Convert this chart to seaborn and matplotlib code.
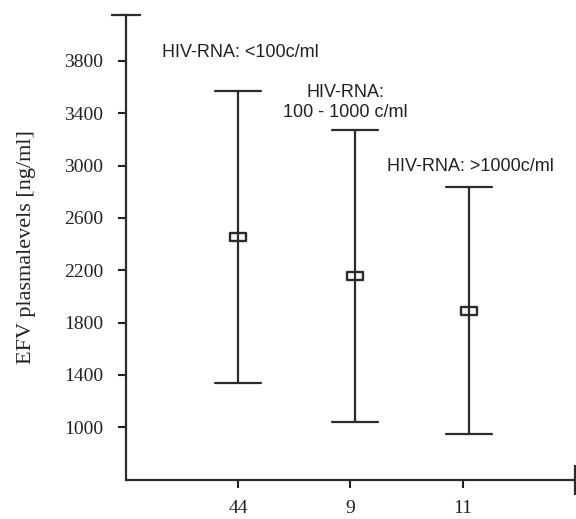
import numpy as np
import pandas as pd
import matplotlib
matplotlib.use("Agg")
import matplotlib.pyplot as plt
from matplotlib.path import Path
import seaborn as sns

# group sizes (x tick labels) and where each bar sits on the x axis
n_labels = ["44", "9", "11"]
tick_pos = [1, 2, 3]
bar_pos = [1.0, 2.04, 3.06]

# EFV plasma levels [ng/ml]: lower whisker, mean, upper whisker
low = [1336, 1038, 947]
mean = [2456, 2156, 1891]
high = [3571, 3271, 2833]

groups = ["HIV-RNA: <100c/ml", "HIV-RNA:\n100 - 1000 c/ml", "HIV-RNA: >1000c/ml"]
label_x = [1.02, 1.96, 3.07]
label_y = [3863, 3483, 2995]

rows = []
for x, lo, m, hi in zip(bar_pos, low, mean, high):
    for v in (lo, m, hi):
        rows.append({"x": x, "value": v})
df = pd.DataFrame(rows)

sns.set_style("ticks")
plt.rcParams["font.family"] = ["Liberation Serif", "DejaVu Serif"]

ink = "#2b2b2b"
box = Path([(-1, -0.55), (1, -0.55), (1, 0.55), (-1, 0.55), (-1, -0.55)],
           [Path.MOVETO, Path.LINETO, Path.LINETO, Path.LINETO, Path.CLOSEPOLY])

fig = plt.figure(figsize=(5.76, 5.19), dpi=100)
ax = fig.add_axes([0.218, 0.076, 0.78, 0.895])

sns.pointplot(data=df, x="x", y="value", native_scale=True,
              estimator="median", errorbar=lambda v: (v.min(), v.max()),
              linestyle="none", marker=box, markersize=11,
              color=ink, markerfacecolor="white", markeredgecolor=ink,
              markeredgewidth=1.7, capsize=0.4,
              err_kws={"linewidth": 1.6, "color": ink}, ax=ax)

for x, y, txt in zip(label_x, label_y, groups):
    ax.text(x, y, txt, ha="center", va="center", fontsize=13,
            family=["Liberation Sans", "DejaVu Sans"], color="#222222")

ax.set_xlim(0, 4)
ax.set_ylim(600, 4150)
ax.set_xticks(tick_pos)
ax.set_xticklabels(n_labels)
ax.set_yticks(np.arange(1000, 3801, 400))
ax.set_xlabel("")
ax.set_ylabel("EFV plasmalevels [ng/ml]", fontsize=16, labelpad=20, color="#222222")
ax.tick_params(axis="both", labelsize=14, colors="#222222", width=1.5, length=6)
ax.tick_params(axis="y", pad=10)
ax.tick_params(axis="x", pad=9)

sns.despine(ax=ax)
for s in ("left", "bottom"):
    ax.spines[s].set_linewidth(1.6)
    ax.spines[s].set_color(ink)

# end caps on the axis lines
ax.plot([0], [1], marker="_", markersize=22, markeredgewidth=1.6, color=ink,
        transform=ax.transAxes, clip_on=False)
ax.plot([1], [0], marker="|", markersize=22, markeredgewidth=1.6, color=ink,
        transform=ax.transAxes, clip_on=False)

fig.savefig("out.png", dpi=100)
